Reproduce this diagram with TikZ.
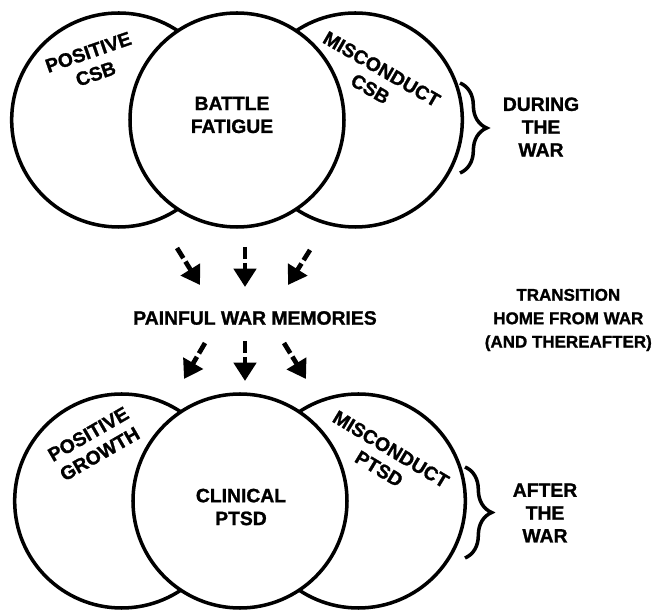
\documentclass[tikz,border=0pt]{standalone}
\usepackage{fontspec}
\setmainfont{Liberation Sans}
\newfontfamily\warfont{Liberation Sans Bold}[FakeBold=1.2]
\usetikzlibrary{arrows.meta,decorations.pathreplacing}

\begin{document}
\begin{tikzpicture}[
			ring/.style = {circle, draw, line width=3pt, minimum size=6.42cm, inner sep=0pt},
			midring/.style = {ring, fill=white},
			wartext/.style = {font=\warfont\fontsize{16.5}{19.5}\selectfont, align=center, inner sep=0pt},
			warrow/.style = {line width=4pt, dash pattern=on 0.36cm off 0.12cm,
				-{Triangle[length=0.55cm,width=0.66cm]}},
			warbrace/.style = {decorate, decoration={brace, amplitude=0.8cm}, line width=3pt}
					]
			\def\gap{3.55}
			\useasboundingbox (0,0) rectangle (19.77,18.33);
			% during the war
			\begin{scope}[shift={(7.11,14.73)}]
				\node[ring] (poscsb) at (-\gap,0) {};
				\node[ring] (miscsb) at (\gap,0) {};
				\node[midring] (fatigue) at (0,0) {};
			\end{scope}
			\node[wartext, rotate=19] (poscsbtext) at (2.76,16.44) {POSITIVE\\CSB};
			\node[wartext] (fatiguetext) at (6.96,14.88) {BATTLE\\FATIGUE};
			\node[wartext, rotate=-30] (miscsbtext) at (11.28,15.96) {MISCONDUCT\\CSB};
			\draw[warbrace] (13.8,15.84) -- (13.8,13.14);
			\node[wartext] (during) at (16.23,14.52) {DURING\\THE\\WAR};
			% transition
			\node[wartext] (memories) at (7.65,8.79) {PAINFUL WAR MEMORIES};
			\node[wartext, font=\warfont\fontsize{14.5}{20}\selectfont] (transition) at (17.05,8.73) {TRANSITION\\HOME FROM WAR\\(AND THEREAFTER)};
			\coordinate (ta) at (5.31,10.89);
			\coordinate (tb) at (7.35,10.92);
			\coordinate (tc) at (9.3,10.83);
			\coordinate (ha) at (6.0,9.78);
			\coordinate (hb) at (7.35,9.72);
			\coordinate (hc) at (8.64,9.78);
			\draw[warrow] (ta) -- (ha);
			\draw[warrow] (tb) -- (hb);
			\draw[warrow] (tc) -- (hc);
			\coordinate (ba) at (6.15,8.04);
			\coordinate (bb) at (7.35,8.1);
			\coordinate (bc) at (8.52,8.04);
			\coordinate (ga) at (5.52,6.96);
			\coordinate (gb) at (7.35,6.9);
			\coordinate (gc) at (9.18,6.96);
			\draw[warrow] (ba) -- (ga);
			\draw[warrow] (bb) -- (gb);
			\draw[warrow] (bc) -- (gc);
			% after the war
			\begin{scope}[shift={(7.2,3.30)}]
				\node[ring] (growth) at (-\gap,0) {};
				\node[ring] (misptsd) at (\gap,0) {};
				\node[midring] (ptsd) at (0,0) {};
			\end{scope}
			\node[wartext, rotate=30] (growthtext) at (2.82,5.01) {POSITIVE\\GROWTH};
			\node[wartext] (ptsdtext) at (7.23,3.12) {CLINICAL\\PTSD};
			\node[wartext, rotate=-31] (misptsdtext) at (11.55,4.56) {MISCONDUCT\\PTSD};
			\draw[warbrace] (13.95,4.32) -- (13.95,1.59);
			\node[wartext] (after) at (16.35,2.94) {AFTER\\THE\\WAR};
		\end{tikzpicture}
\end{document}
